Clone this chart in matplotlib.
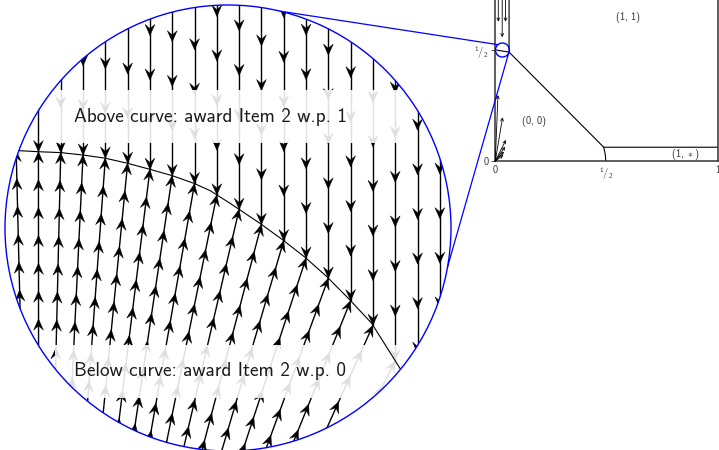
import numpy as np
import matplotlib.pyplot as plt
from matplotlib.patches import Circle, Rectangle, ConnectionPatch
from matplotlib.collections import LineCollection, PolyCollection

plt.rcParams['font.family'] = ['cmss10', 'DejaVu Sans']
plt.rcParams['mathtext.fontset'] = 'custom'
plt.rcParams['mathtext.rm'] = 'cmss10'
plt.rcParams['mathtext.it'] = 'cmss10'
plt.rcParams['mathtext.sf'] = 'cmss10'
plt.rcParams['axes.unicode_minus'] = False

# ---- unit-square region diagram ----
region_x = [0.062, 0.062, 0.488, 1.0]
region_y = [1.2, 0.49, 0.062, 0.062]
kink_x = [0.488, 0.493, 0.496, 0.497]
kink_y = [0.062, 0.040, 0.020, 0.0]
lip_x = [0.0, 0.062]
lip_y = [0.5, 0.49]

down_x = [0.0135, 0.031, 0.046]
down_tip = [0.627, 0.557, 0.627]
fan_x = [0.012, 0.033, 0.048, 0.044, 0.039, 0.036]
fan_y = [0.297, 0.197, 0.095, 0.064, 0.042, 0.027]

region_text = [r'$(1,\,1)$', r'$(0,\,0)$', r'$(1,\,\ast)$']
region_lx = [0.597, 0.172, 0.858]
region_ly = [0.648, 0.176, 0.030]

spot_center = (0.032, 0.4995)
spot_r = 0.0315

# ---- magnified view around (0, 1/2), circle coordinates ----
curve_u = [-1.00, -0.94, -0.848, -0.749, -0.649, -0.550, -0.450, -0.350, -0.251,
           -0.152, -0.081, 0.009, 0.143, 0.241, 0.345, 0.443, 0.547, 0.644,
           0.771, 0.848, 0.946, 1.05]
curve_v = [0.349, 0.347, 0.342, 0.338, 0.327, 0.313, 0.290, 0.263, 0.235,
           0.200, 0.168, 0.111, 0.021, -0.050, -0.131, -0.218, -0.323, -0.427,
           -0.629, -0.758, -0.951, -1.15]
col_u = np.round(np.arange(-0.95, 0.96, 0.1), 2)
ray_source = (-0.848, -3.776)
step_above = 0.2
step_below = 0.125

label_above = 'Above curve: award Item 2 w.p. 1'
label_below = 'Below curve: award Item 2 w.p. 0'


def head_polys(tips, dirs, L=0.05, W=0.022):
    polys = []
    for (tx, ty), (dx, dy) in zip(tips, dirs):
        nx, ny = -dy, dx
        polys.append([(tx, ty),
                      (tx - L * dx + W * nx, ty - L * dy + W * ny),
                      (tx - 0.62 * L * dx, ty - 0.62 * L * dy),
                      (tx - L * dx - W * nx, ty - L * dy - W * ny)])
    return polys


fig = plt.figure(figsize=(7.19, 4.5), dpi=100)

# left: magnified circle
axL = fig.add_axes([5 / 719, -1 / 450, 446 / 719, 446 / 450])
axL.set_xlim(-1, 1)
axL.set_ylim(-1, 1)
axL.axis('off')
clip = Circle((0, 0), 1, transform=axL.transData)

segs, tips, dirs = [], [], []
cv_at = np.interp(col_u, curve_u, curve_v)
for u, cv in zip(col_u, cv_at):
    # above the curve: straight down onto it
    segs.append([(u, 1.1), (u, cv)])
    j = 0
    while cv + j * step_above < 1.06:
        tips.append((u, cv + j * step_above))
        dirs.append((0.0, -1.0))
        j += 1
    # below the curve: rays pointing up toward it
    d = np.array([u - ray_source[0], cv - ray_source[1]])
    d = d / np.hypot(*d)
    t = (cv + 1.1) / d[1]
    segs.append([(u - t * d[0], -1.1), (u, cv)])
    j = 0
    while cv - j * step_below * d[1] > -1.06:
        tips.append((u - j * step_below * d[0], cv - j * step_below * d[1]))
        dirs.append((d[0], d[1]))
        j += 1

lc = LineCollection(segs, colors='black', linewidths=1.0, zorder=2)
lc.set_clip_path(clip)
axL.add_collection(lc)
pc = PolyCollection(head_polys(tips, dirs), facecolors='black', edgecolors='black',
                    linewidths=0.3, zorder=2.5)
pc.set_clip_path(clip)
axL.add_collection(pc)

for y0, txt in [(0.381, label_above), (-0.762, label_below)]:
    box = Rectangle((-0.776, y0), 1.57, 0.238, facecolor='white', alpha=0.88,
                    edgecolor='none', zorder=3)
    box.set_clip_path(clip)
    axL.add_patch(box)
    axL.text(-0.691, y0 + 0.119, txt, ha='left', va='center', fontsize=13.9,
             color='#1a1a1a', zorder=4)

cl, = axL.plot(curve_u, curve_v, color='black', lw=0.8, zorder=5)
cl.set_clip_path(clip)
axL.add_patch(Circle((0, 0), 1, fill=False, ec='blue', lw=1.0, zorder=6, clip_on=False))

# right: the unit square
axR = fig.add_axes([495.3 / 719, 289 / 450, 222.2 / 719, 222.2 / 450])
axR.set_xlim(0, 1)
axR.set_ylim(0, 1)
for side in ['left', 'bottom', 'right']:
    axR.spines[side].set_color('#333333')
    axR.spines[side].set_linewidth(1.1)
axR.spines['top'].set_visible(False)
axR.set_xticks([0, 0.5, 1])
axR.set_xticklabels(['0', r'$^1\!/_2$', '1'])
axR.set_yticks([0, 0.5])
axR.set_yticklabels(['0', r'$^1\!/_2$'])
axR.tick_params(axis='x', length=0, pad=3, labelsize=7.5, labelcolor='#333333')
axR.tick_params(axis='y', length=3, width=0.6, pad=2, labelsize=7.5, labelcolor='#333333',
                color='#333333')

axR.plot(region_x, region_y, color='black', lw=0.8)
axR.plot(kink_x, kink_y, color='black', lw=0.8)
axR.plot(lip_x, lip_y, color='black', lw=0.8)

for x, yt in zip(down_x, down_tip):
    axR.annotate('', xy=(x, yt), xytext=(x, 1.0),
                 arrowprops=dict(arrowstyle='->', lw=0.6, color='black',
                                 shrinkA=0, shrinkB=0, mutation_scale=5))
for x, y in zip(fan_x, fan_y):
    axR.annotate('', xy=(x, y), xytext=(0, 0),
                 arrowprops=dict(arrowstyle='->', lw=0.6, color='black',
                                 shrinkA=0, shrinkB=0, mutation_scale=5))

for s, x, y in zip(region_text, region_lx, region_ly):
    axR.text(x, y, s, ha='center', va='center', fontsize=7.5, color='#333333')

axR.add_patch(Circle(spot_center, spot_r, fill=False, ec='blue', lw=1.0, zorder=6))

# blue leader lines between the spot and the magnified view
for aL, aR in [(76.5, 130.0), (-10.0, -5.0)]:
    pa = (np.cos(np.radians(aL)), np.sin(np.radians(aL)))
    pb = (spot_center[0] + spot_r * np.cos(np.radians(aR)),
          spot_center[1] + spot_r * np.sin(np.radians(aR)))
    con = ConnectionPatch(xyA=pa, xyB=pb, coordsA='data', coordsB='data',
                          axesA=axL, axesB=axR, color='blue', lw=0.9, zorder=7)
    fig.add_artist(con)

fig.savefig('out.png', dpi=100)
